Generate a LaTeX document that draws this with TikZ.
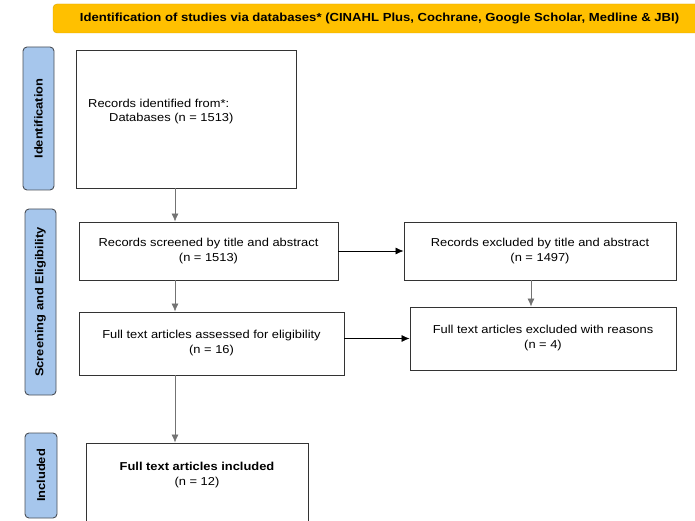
\documentclass[tikz,border=0pt]{standalone}
\usepackage{fontspec}
\setmainfont{Liberation Sans}[FakeStretch=1.12]
\usetikzlibrary{arrows.meta}
\definecolor{bannerfill}{HTML}{FFC000}
\definecolor{bannerline}{HTML}{D9A400}
\definecolor{stagefill}{HTML}{A6C6EC}
\definecolor{stageline}{HTML}{4A4F57}

\begin{document}
\begin{tikzpicture}[x=1pt, y=-1pt,
    box/.style={draw=black!80, line width=0.9pt, fill=white, align=center, font=\fontsize{11.5}{15}\selectfont},
    stage/.style={draw=stageline, line width=0.9pt, fill=stagefill, rounded corners=4pt, rotate=90, inner sep=0pt, font=\bfseries\fontsize{11.5}{13}\selectfont},
    arrow/.style={-{Latex[length=8pt, width=7pt]}, black!55, line width=0.7pt}]
    \useasboundingbox (0,0) rectangle (695,521);
    \node[draw=bannerline, fill=bannerfill, rounded corners=4pt, minimum width=653, minimum height=29, font=\bfseries\fontsize{11.7}{13}\selectfont] (title) at (379.5,18.5) {Identification of studies via databases* (CINAHL Plus, Cochrane, Google Scholar, Medline \& JBI)};
    \node[stage, minimum width=143, minimum height=31] (ident) at (38.5,118.5) {Identification};
    \node[stage, minimum width=186, minimum height=31] (screen) at (40.5,302) {Screening and Eligibility};
    \node[stage, minimum width=85, minimum height=32] (incl) at (41,475.5) {Included};
    \node[box, minimum width=220, minimum height=138] (records) at (186,119) {};
    \node[anchor=north west, align=left, inner sep=0pt, font=\fontsize{11.5}{13.5}\selectfont] (recordstext) at (88,99) {Records identified from*:\\ \hspace{21pt}Databases (n = 1513)};
    \node[box, minimum width=259, minimum height=58] (screened) at (208.5,251) {Records screened by title and abstract\\(n = 1513)};
    \node[box, minimum width=272, minimum height=58] (excluded) at (540,251) {Records excluded by title and abstract\\(n = 1497)};
    \node[box, minimum width=265, minimum height=63] (assessed) at (211.5,343.5) {Full text articles assessed for eligibility\\(n = 16)};
    \node[box, minimum width=266, minimum height=63] (reasons) at (543,338.5) {Full text articles excluded with reasons\\(n = 4)};
    \node[box, minimum width=222, minimum height=100] (included) at (197,493) {};
    \node[align=center, inner sep=0pt, font=\fontsize{11.5}{15}\selectfont] (includedtext) at (197,475) {\textbf{Full text articles included}\\(n = 12)};
    \coordinate (spine) at (175,0);
    \coordinate (drop) at (531,0);
    \draw[arrow] (records.south -| spine) -- (screened.north -| spine);
    \draw[arrow] (screened.south -| spine) -- (assessed.north -| spine);
    \draw[arrow] (assessed.south -| spine) -- (included.north -| spine);
    \draw[arrow] (excluded.south -| drop) -- (reasons.north -| drop);
    \draw[arrow, black] (screened.east) -- (excluded.west);
    \draw[arrow, black] (assessed.east |- reasons.west) -- (reasons.west);
\end{tikzpicture}
\end{document}
